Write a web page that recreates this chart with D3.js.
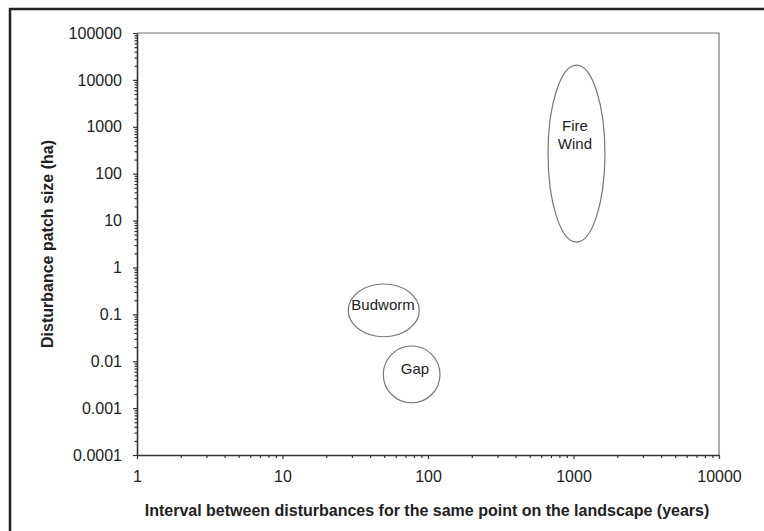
<!DOCTYPE html>
<html>
<head>
<meta charset="utf-8">
<script src="https://cdn.jsdelivr.net/npm/d3@7"></script>
<style>
  body { margin: 0; background: #fff; }
  text { font-family: "Liberation Sans", Arial, sans-serif; fill: #222; }
</style>
</head>
<body>
<div id="chart"></div>
<script>
// tick values and labels
const xTickValues = [1, 10, 100, 1000, 10000];
const xTickLabels = ['1', '10', '100', '1000', '10000'];
const yTickValues = [0.0001, 0.001, 0.01, 0.1, 1, 10, 100, 1000, 10000, 100000];
const yTickLabels = ['0.0001', '0.001', '0.01', '0.1', '1', '10', '100', '1000', '10000', '100000'];

// ellipse extents (data units) for each disturbance type
const names = ['Budworm', 'Gap', 'Fire\nWind'];
const xLow = [28.3, 49.3, 668];
const xHigh = [87.1, 120.9, 1645];
const yLow = [0.0333, 0.0013, 3.47];
const yHigh = [0.443, 0.0211, 20650];
// label anchor points (data units)
const labelX = [49.1, 81.4, 1023];
const labelY = [0.158, 0.00683, 665];

const W = 764, H = 531;
const margin = { top: 33, right: 45, bottom: 76, left: 137 };
const width = W - margin.left - margin.right,
    height = H - margin.top - margin.bottom;

const root = d3.select('#chart').append('svg')
    .attr('width', W)
    .attr('height', H);

// outer frame (right and bottom run off the picture)
root.append('rect')
    .attr('x', 10).attr('y', 9)
    .attr('width', W + 10).attr('height', H + 10)
    .attr('fill', 'none')
    .attr('stroke', '#222')
    .attr('stroke-width', 2.5);

const svg = root.append('g')
    .attr('transform', 'translate(' + margin.left + ',' + margin.top + ')');

const x = d3.scaleLog().domain([1, 10000]).range([0, width]);
const y = d3.scaleLog().domain([0.0001, 100000]).range([height, 0]);

// top and right frame lines
svg.append('path')
    .attr('d', 'M0,0H' + width + 'V' + height)
    .attr('fill', 'none')
    .attr('stroke', '#777')
    .attr('stroke-width', 1.2);

// minor tick values
const xMinor = [];
for (let d = 1; d < 10000; d *= 10) for (let k = 2; k <= 9; k++) xMinor.push(d * k);
const yMinor = [];
for (let d = 0.0001; d < 100000; d *= 10) for (let k = 2; k <= 9; k++) yMinor.push(d * k);

// x axis
const xAxis = svg.append('g')
    .attr('transform', 'translate(0,' + height + ')');
xAxis.append('g')
    .call(d3.axisBottom(x).tickValues(xMinor).tickSize(3).tickFormat(''))
    .call(g => g.select('.domain').remove());
xAxis.append('g')
    .call(d3.axisBottom(x).tickValues(xTickValues).tickSizeInner(4).tickSizeOuter(0)
        .tickFormat((d, i) => xTickLabels[i]).tickPadding(12))
    .call(g => g.select('.domain').attr('stroke-width', 1.6));
xAxis.selectAll('line').attr('stroke', '#333').attr('stroke-width', 1.2);
xAxis.selectAll('.domain').attr('stroke', '#333');
xAxis.selectAll('text')
    .style('font-size', '16px')
    .style('font-family', '"Liberation Sans", Arial, sans-serif')
    .attr('fill', '#222');

// y axis
const yAxis = svg.append('g');
yAxis.append('g')
    .call(d3.axisLeft(y).tickValues(yMinor).tickSize(2.5).tickFormat(''))
    .call(g => g.select('.domain').remove());
yAxis.append('g')
    .call(d3.axisLeft(y).tickValues(yTickValues).tickSizeInner(4).tickSizeOuter(0)
        .tickFormat((d, i) => yTickLabels[i]).tickPadding(11))
    .call(g => g.select('.domain').attr('stroke-width', 1.6));
yAxis.selectAll('line').attr('stroke', '#333').attr('stroke-width', 1.2);
yAxis.selectAll('.domain').attr('stroke', '#333');
yAxis.selectAll('text')
    .style('font-size', '16px')
    .style('font-family', '"Liberation Sans", Arial, sans-serif')
    .attr('fill', '#222');

// ellipses
const ellipses = names.map((n, i) => ({
    name: n, x0: xLow[i], x1: xHigh[i], y0: yLow[i], y1: yHigh[i], lx: labelX[i], ly: labelY[i]
}));

svg.selectAll('ellipse')
    .data(ellipses)
    .enter()
    .append('ellipse')
    .attr('cx', d => (x(d.x0) + x(d.x1)) / 2)
    .attr('cy', d => (y(d.y0) + y(d.y1)) / 2)
    .attr('rx', d => (x(d.x1) - x(d.x0)) / 2)
    .attr('ry', d => (y(d.y0) - y(d.y1)) / 2)
    .attr('fill', 'none')
    .attr('stroke', '#777')
    .attr('stroke-width', 1.2);

const labels = svg.selectAll('text.lbl')
    .data(ellipses)
    .enter()
    .append('text')
    .attr('class', 'lbl')
    .attr('text-anchor', 'middle')
    .style('font-size', '15px')
    .attr('x', d => x(d.lx))
    .attr('y', d => y(d.ly));

labels.each(function (d) {
    const lines = d.name.split('\n');
    const t = d3.select(this);
    lines.forEach((s, j) => {
        t.append('tspan')
            .attr('x', x(d.lx))
            .attr('dy', j === 0 ? (0.35 - (lines.length - 1) * 0.6) + 'em' : '1.2em')
            .text(s);
    });
});

// axis titles
root.append('text')
    .attr('x', 427)
    .attr('y', 516)
    .attr('text-anchor', 'middle')
    .style('font-size', '16px')
    .style('font-weight', 'bold')
    .text('Interval between disturbances for the same point on the landscape (years)');

root.append('text')
    .attr('transform', 'translate(53,' + (margin.top + height / 2) + ') rotate(-90)')
    .attr('text-anchor', 'middle')
    .style('font-size', '16px')
    .style('font-weight', 'bold')
    .text('Disturbance patch size (ha)');
</script>
</body>
</html>
